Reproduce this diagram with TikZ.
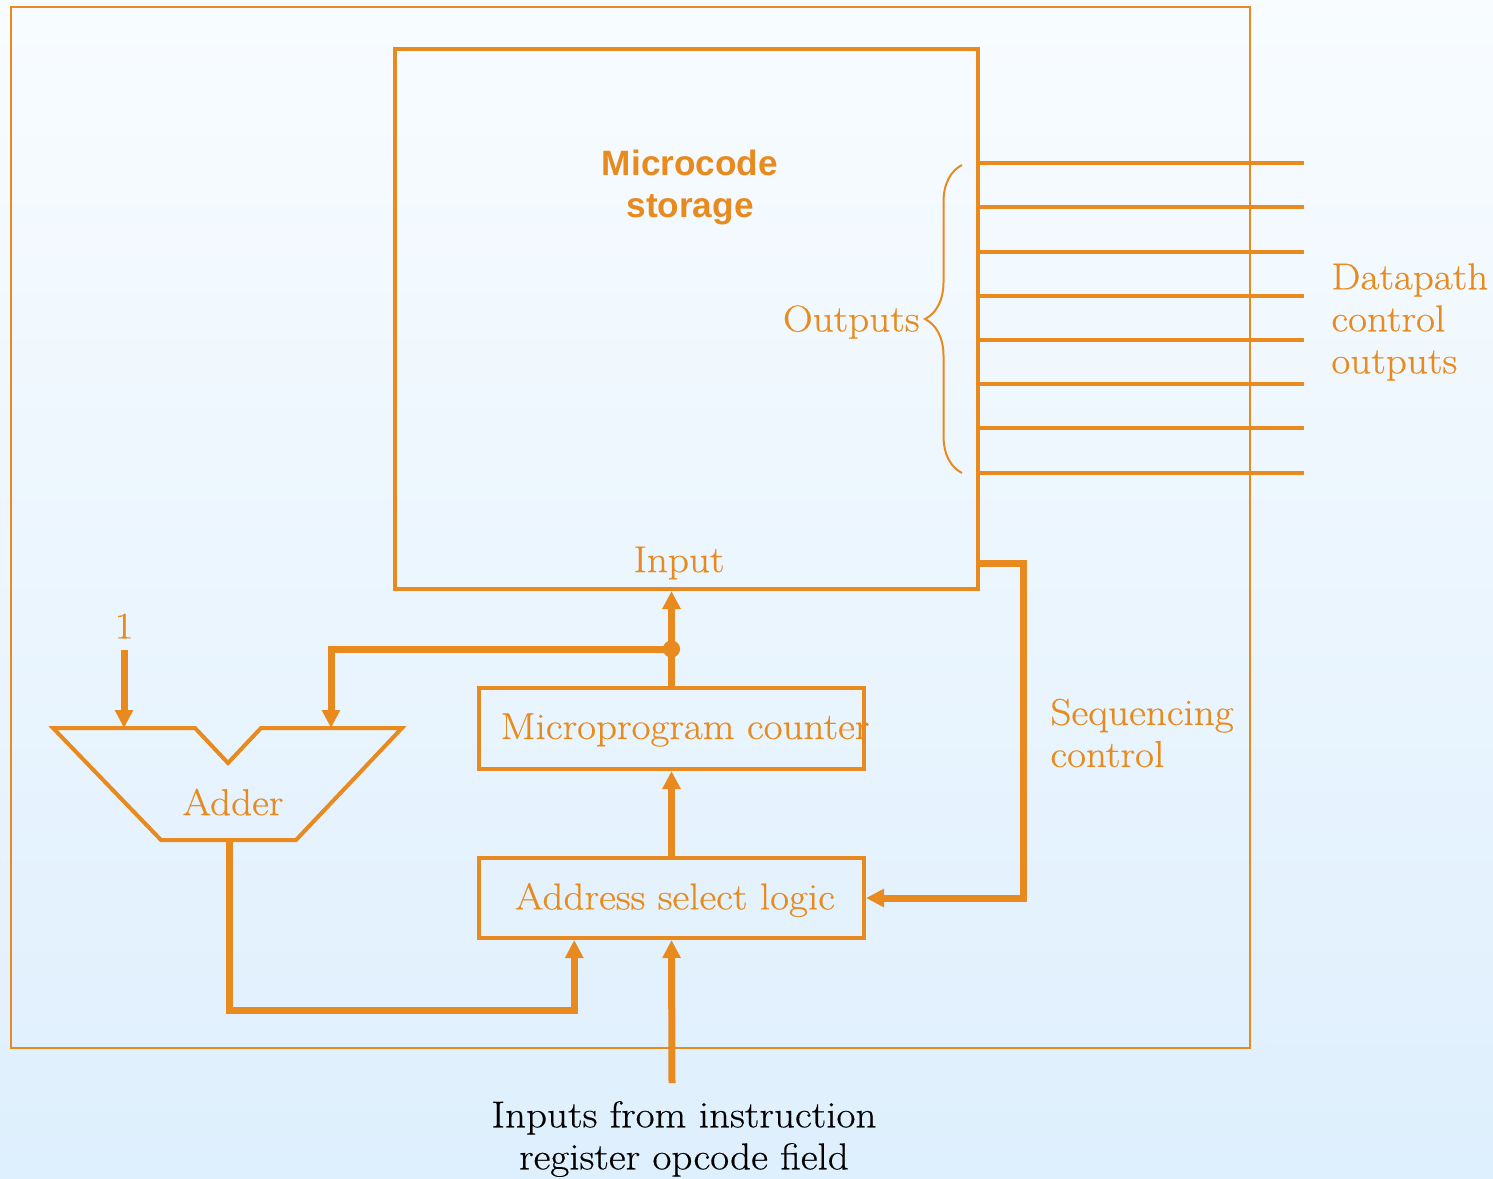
\documentclass[tikz,border=0pt]{standalone}
\usepackage{fontspec}
\setmainfont{Latin Modern Roman}[FakeStretch=1.1, FakeBold=0.4]
\newfontfamily\headfont{Liberation Sans}
\usetikzlibrary{arrows.meta,calc,decorations.pathreplacing}
\definecolor{org}{RGB}{232,138,30}
\definecolor{bgtop}{RGB}{248,252,255}
\definecolor{bgbot}{RGB}{222,239,253}
\tikzset{
 box/.style={draw=org, line width=2pt, inner sep=0pt},
 conn/.style={draw=org, line width=3.5pt, line join=miter},
 arr/.style={conn, -{Triangle[length=9pt,width=8.7pt]}},
 outline/.style={draw=org, line width=2pt, line join=miter},
 sig/.style={draw=org, line width=2pt},
 lbl/.style={text=org, font=\fontsize{18.7}{21}\selectfont, inner sep=0pt},
}
\begin{document}
\begin{tikzpicture}[x=0.5pt,y=-0.5pt]
\shade[top color=bgtop,bottom color=bgbot] (0,0) rectangle (1493,1178);
\useasboundingbox (0,0) rectangle (1493,1178);
\draw[org, line width=1.2pt] (11,7) rectangle (1250,1048);

% microcode storage
\node[box, minimum width=291.5pt, minimum height=270pt] (store) at (686.5,319) {};
\node[lbl, font=\headfont\bfseries\fontsize{17.6}{21}\selectfont, align=center] (title) at (690,187) {Microcode\\storage};
\node[lbl] (inlbl) at (679,563) {Input};

% output lines
\foreach \y [count=\i] in {163,207,252,296,340,384,428,473} {
  \coordinate (o\i) at (1304,\y);
  \draw[sig] (store.east |- o\i) -- (o\i);
}
\draw[org, line width=1pt, decorate, decoration={brace, amplitude=18.5pt}] (962,473) -- (962,165);
\node[lbl, anchor=east] (outs) at (920,322) {Outputs};
\node[lbl, anchor=west, align=left] (dp) at (1331,322) {Datapath\\control\\outputs};

% counter and address logic
\node[box, minimum width=192.5pt, minimum height=40.5pt] (ctr) at (671.5,728.5) {};
\node[lbl] (ctrlbl) at (685,730) {Microprogram counter};
\node[box, minimum width=192.5pt, minimum height=40pt] (addr) at (671.5,898) {};
\node[lbl] (addrlbl) at (675,900) {Address select logic};

\draw[arr] (addr.north) -- (ctr.south);
\coordinate (dot) at (ctr.north |- 0,649);
\draw[arr] (ctr.north) -- (ctr.north |- store.south);
\fill[org] (dot) circle (4.3pt);

% adder
\coordinate (ad1) at (124,728);
\coordinate (ad2) at (331,728);
\coordinate (adout) at (229,840);
\draw[outline] (53,728) -- (195,728) -- (228,763) -- (261,728) -- (402,728) -- (296,840) -- (161,840) -- cycle;
\node[lbl] (addlbl) at (233,802) {Adder};
\node[lbl] (one) at (124,626) {1};
\draw[arr] ([yshift=-5.5pt]one.south) -- (ad1);
\draw[arr] (dot) -| (ad2);
\coordinate (bend) at (229,1010);
\draw[arr] (adout) -- (bend) -| ($(addr.south west)!0.25!(addr.south east)$);

% sequencing control
\coordinate (seqa) at (1023,563);
\draw[arr] (store.east |- seqa) -- (seqa) |- (addr.east);
\node[lbl, anchor=west, align=left] (seqlbl) at (1050,733) {Sequencing\\control};

% opcode input
\coordinate (opin) at (672,1083);
\draw[arr] (opin) -- (addr.south);
\node[font=\fontsize{18.7}{21}\selectfont, align=center, text=black, inner sep=0pt] (oplbl) at (684,1139) {Inputs from instruction\\register opcode field};
\end{tikzpicture}
\end{document}
